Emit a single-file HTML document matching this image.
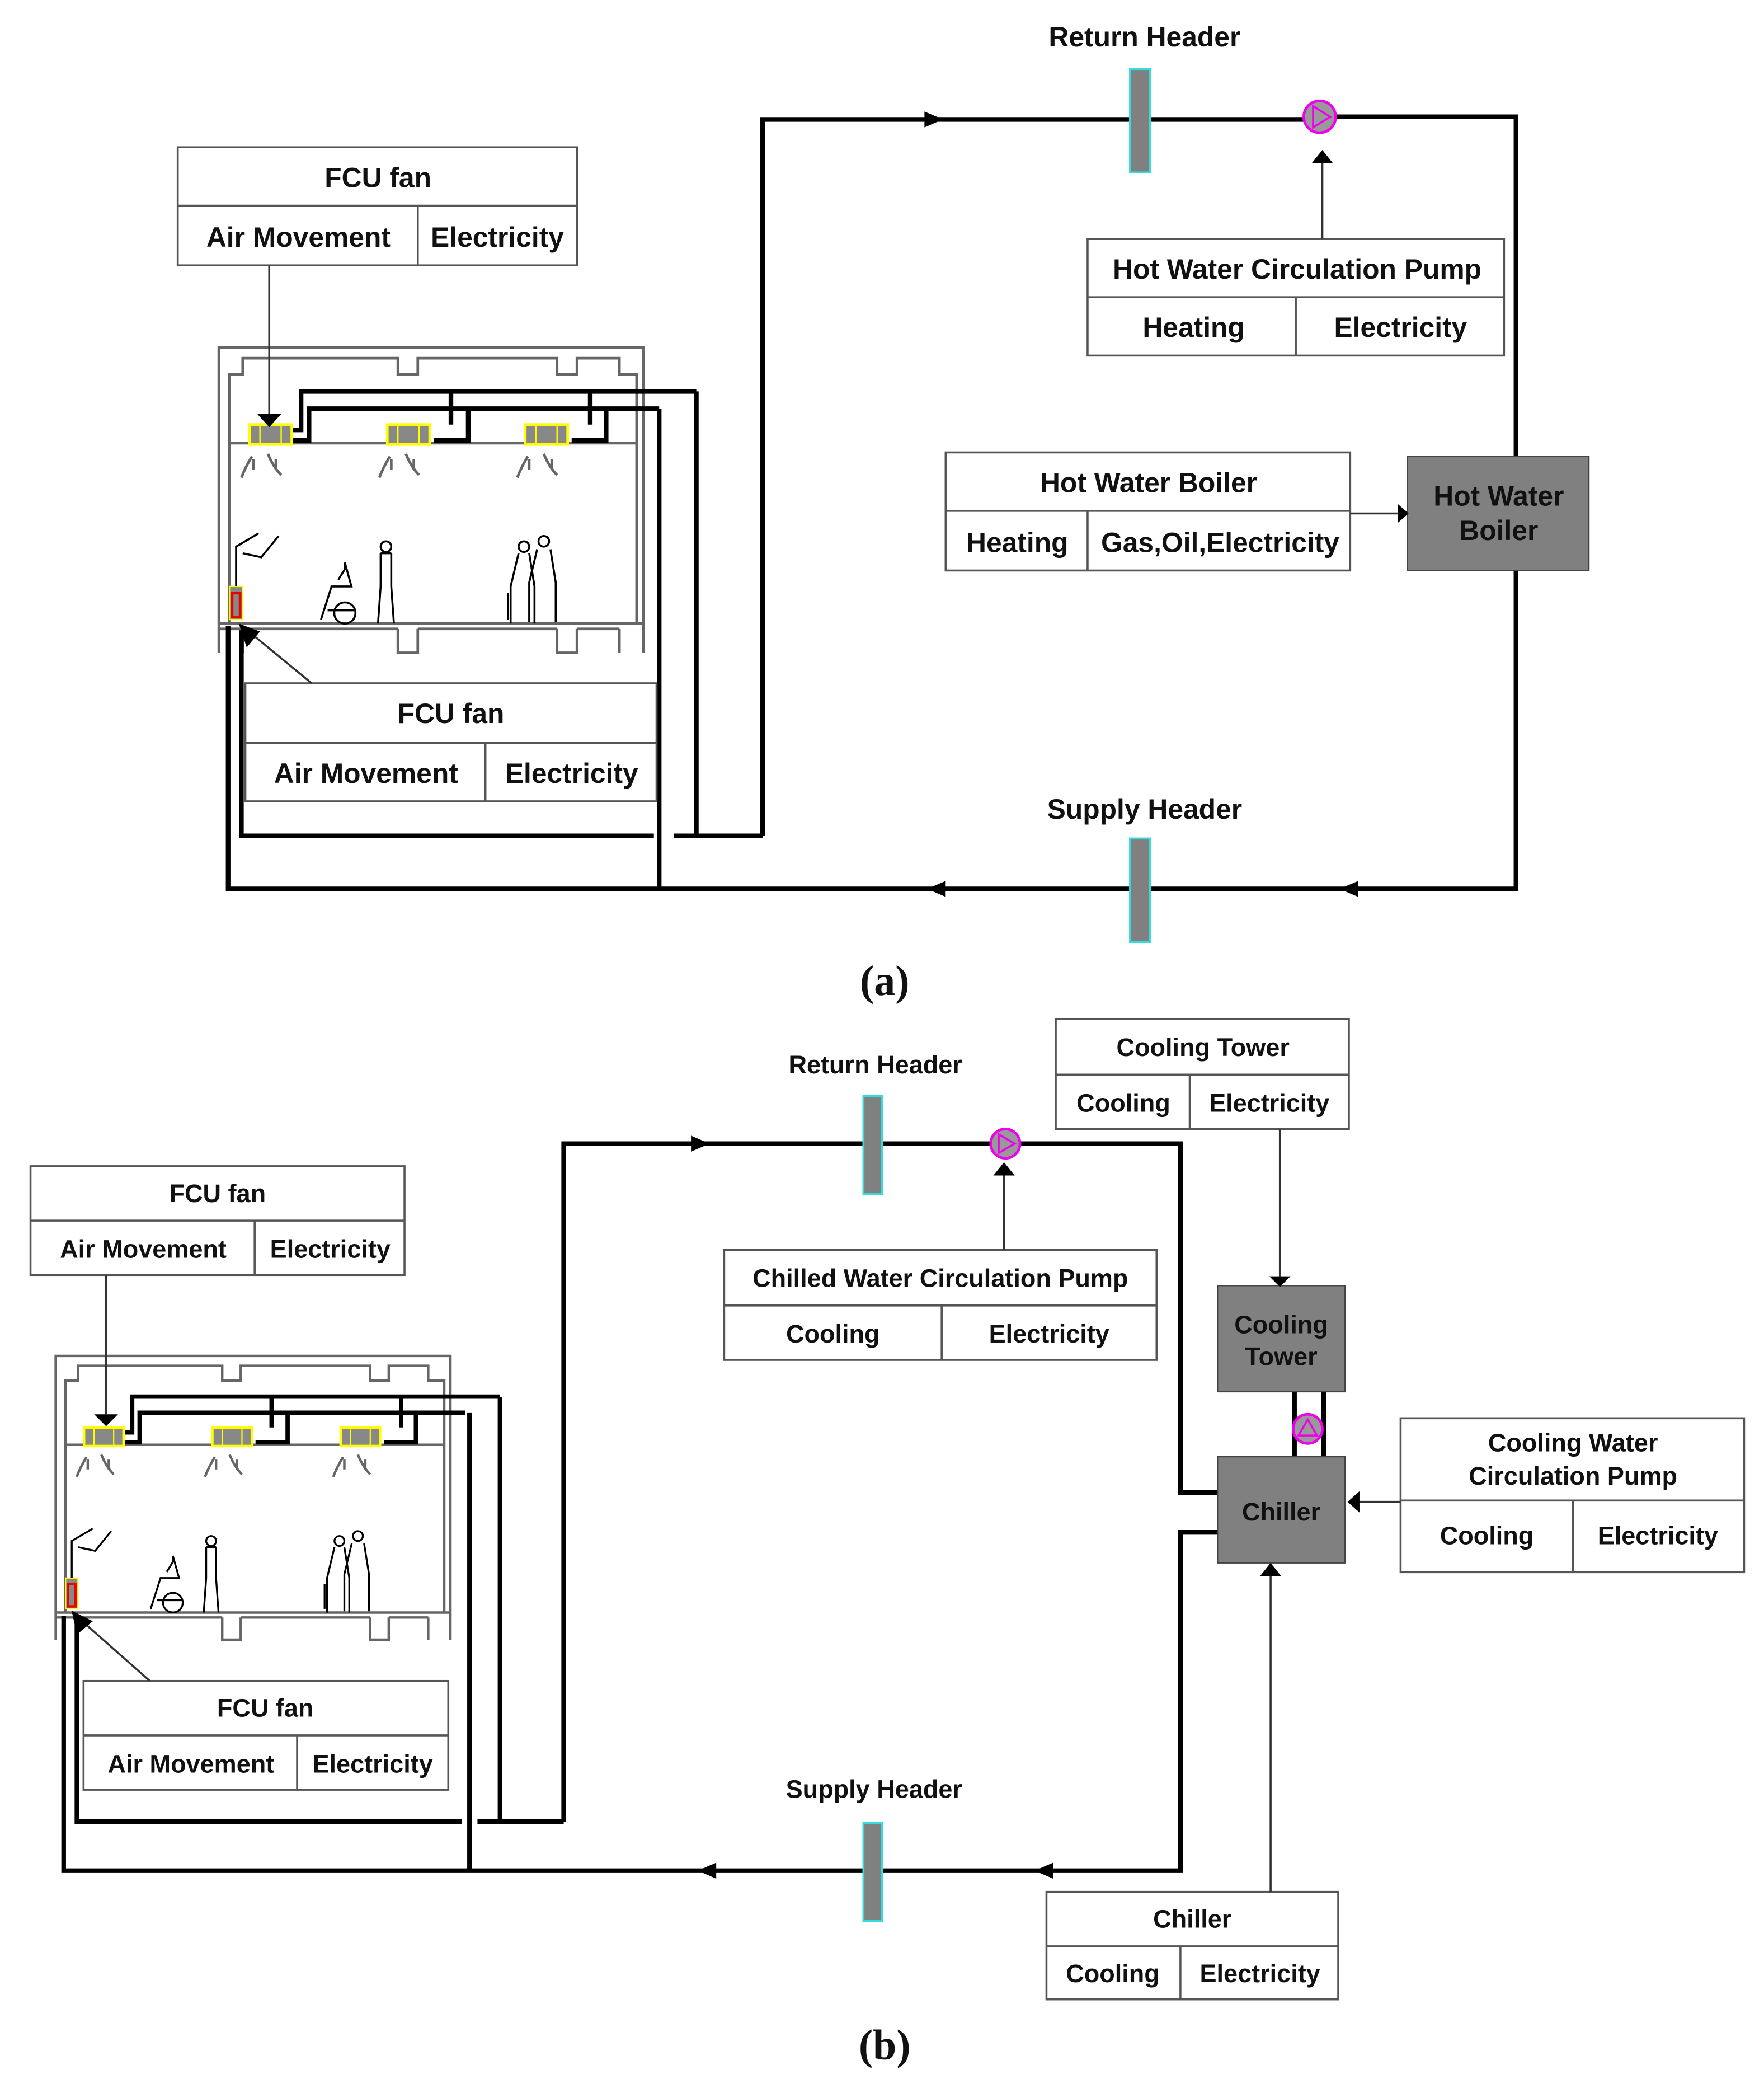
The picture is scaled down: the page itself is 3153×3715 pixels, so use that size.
<!DOCTYPE html>
<html><head><meta charset="utf-8"><style>
html,body{margin:0;padding:0;background:#fff;}
svg{display:block;}
text{font-family:"Liberation Sans",sans-serif;font-weight:bold;fill:#111;}
</style></head><body>
<svg width="3153" height="3715" viewBox="0 0 1330 1567" xmlns="http://www.w3.org/2000/svg">
<defs>
<g id="fcu">
<rect x="0" y="0" width="32" height="15" fill="#888" stroke="#ff0" stroke-width="2"/>
<line x1="8" y1="0" x2="8" y2="15" stroke="#ff0" stroke-width="1"/>
<line x1="24" y1="0" x2="24" y2="15" stroke="#ff0" stroke-width="1"/>
<path d="M2,24 q-5,8 -8,16 M14,22 q4,10 10,16 M3,26 v8 M20,26 v8" stroke="#666" stroke-width="2" fill="none"/>
</g>
<g id="room">
<g fill="none" stroke="#666" stroke-width="2">
<path d="M0,230 V0 H320 V230"/>
<path d="M8,208 V20 H18 V8 H135 V20 H150 V8 H255 V20 H270 V8 H302 V20 H315 V208"/>
<path d="M8,72 H315"/>
<path d="M0,208 H320 M0,212 H18 V230 M135,212 V230 H150 V212 M255,212 V230 H270 V212 M302,212 V230"/>
<path d="M18,212 H135 M150,212 H255 M270,212 H302"/>
</g>
<g fill="none" stroke="#000" stroke-width="3.5">
<path d="M55,62 H62 V33 H360 M175,58 V33 M280,58 V33"/>
<path d="M55,70 H68 V46 H332 M162,70 H188 V46 M266,70 H292 V46"/>
</g>
<use href="#fcu" x="23" y="58"/><use href="#fcu" x="127" y="58"/><use href="#fcu" x="231" y="58"/>
<rect x="8" y="180" width="10" height="25" fill="#888" stroke="#ff0"/><rect x="10" y="185" width="6" height="18" fill="none" stroke="#e00" stroke-width="2"/>
<path d="M13,180 V150 L30,140 M18,155 L32,158 L45,142" stroke="#000" stroke-width="1.5" fill="none"/>
<g fill="none" stroke="#000" stroke-width="1.5">
<circle cx="95" cy="200" r="8"/><path d="M90,175 l5,-8 v-5 M95,162 l5,18 h-15 l-8,25 M82,198 h20"/>
<circle cx="126" cy="150" r="4"/><path d="M122,155 v25 l-2,28 M130,155 v25 l2,28 M122,155 h8"/>
<circle cx="245" cy="146" r="4"/><circle cx="230" cy="150" r="4"/><path d="M240,152 l-6,25 v30 M250,152 l4,25 v30 M226,155 l-6,25 v28 M234,155 l4,25 v28 M218,185 v20"/>
</g>
</g>
</defs>

<use href="#room" transform="translate(165,262)"/>
<g fill="none" stroke="#000" stroke-width="3.5">
<path d="M525,295 V630 H508"/>
<path d="M575,630 H525"/>
<path d="M575,630 V90 H860"/>
<path d="M497,308 V670"/>
<path d="M182,475 V630 H493"/>
<path d="M172,472 V670 H1143 V88 H1000"/>
<path d="M860,90 H985"/>
</g>
<path d="M697,84 L711,90 L697,96z M1024,664 L1010,670 L1024,676z M713,664 L699,670 L713,676z"/>
<rect x="852" y="52" width="15" height="78" fill="#808080" stroke="#3dd" stroke-width="1.5"/>
<rect x="852" y="632" width="15" height="78" fill="#808080" stroke="#3dd" stroke-width="1.5"/>
<circle cx="995" cy="88" r="12" fill="#999" stroke="#e0e" stroke-width="2"/><path d="M990,80 L1003,88 L990,96z" fill="none" stroke="#e0e" stroke-width="1.5"/>
<text x="863" y="35" font-size="21" text-anchor="middle">Return Header</text>
<text x="863" y="617" font-size="21" text-anchor="middle">Supply Header</text>
<g fill="#fff" stroke="#555" stroke-width="1.5">
<rect x="134" y="111" width="301" height="89"/><path d="M134,155 H435 M315,155 V200"/>
<rect x="185" y="515" width="310" height="89"/><path d="M185,560 H495 M366,560 V604"/>
<rect x="820" y="180" width="314" height="88"/><path d="M820,224 H1134 M977,224 V268"/>
<rect x="713" y="341" width="305" height="89"/><path d="M713,385 H1018 M820,385 V430"/>
</g>
<rect x="1061" y="344" width="137" height="86" fill="#808080" stroke="#444"/>
<g stroke="#333" stroke-width="1.5" fill="none">
<path d="M203,200 V312"/><path d="M235,515 L190,478"/>
<path d="M997,180 V122"/><path d="M1018,387 H1055"/>
</g>
<path d="M194,312 L203,322 L212,312z M989,123 L997,113 L1005,123z M1054,380 L1062,387 L1054,394z M180,470 L186,488 L196,476z"/>
<g font-size="21" text-anchor="middle">
<text x="285" y="141">FCU fan</text><text x="225" y="186">Air Movement</text><text x="375" y="186">Electricity</text>
<text x="340" y="545">FCU fan</text><text x="276" y="590">Air Movement</text><text x="431" y="590">Electricity</text>
<text x="978" y="210">Hot Water  Circulation Pump</text><text x="900" y="254">Heating</text><text x="1056" y="254">Electricity</text>
<text x="866" y="371">Hot Water  Boiler</text><text x="767" y="416">Heating</text><text x="920" y="416">Gas,Oil,Electricity</text>
<text x="1130" y="381">Hot Water</text><text x="1130" y="407">Boiler</text>
</g>
<text x="667" y="750" font-size="32" text-anchor="middle" style="font-family:'Liberation Serif',serif;font-weight:bold">(a)</text>

<use href="#room" transform="translate(42,1022) scale(0.93)"/>
<g fill="none" stroke="#000" stroke-width="3.5">
<path d="M377,1053 V1373 H360"/>
<path d="M425,1373 H377"/>
<path d="M425,1373 V862 H660"/>
<path d="M354,1065 V1410"/>
<path d="M58,1220 V1373 H348"/>
<path d="M48,1218 V1410 H890 V1155 H918"/>
<path d="M660,862 H748 M768,862 H890 V1125 H918"/>
<path d="M976,1049 V1098 M998,1049 V1098"/>
</g>
<path d="M521,856 L535,862 L521,868z M794,1404 L780,1410 L794,1416z M540,1404 L526,1410 L540,1416z"/>
<rect x="651" y="826" width="14" height="74" fill="#808080" stroke="#3dd" stroke-width="1.5"/>
<rect x="651" y="1374" width="14" height="74" fill="#808080" stroke="#3dd" stroke-width="1.5"/>
<circle cx="758" cy="862" r="11" fill="#999" stroke="#e0e" stroke-width="2"/><path d="M753,855 L765,862 L753,869z" fill="none" stroke="#e0e" stroke-width="1.5"/>
<circle cx="986" cy="1077" r="11" fill="#999" stroke="#e0e" stroke-width="2"/><path d="M979,1082 L986,1070 L993,1082z" fill="none" stroke="#e0e" stroke-width="1.5"/>
<text x="660" y="809" font-size="19" text-anchor="middle">Return Header</text>
<text x="659" y="1355" font-size="19" text-anchor="middle">Supply Header</text>
<g fill="#fff" stroke="#555" stroke-width="1.5">
<rect x="23" y="879" width="282" height="82"/><path d="M23,920 H305 M192,920 V961"/>
<rect x="63" y="1267" width="275" height="82"/><path d="M63,1308 H338 M224,1308 V1349"/>
<rect x="546" y="942" width="326" height="83"/><path d="M546,984 H872 M710,984 V1025"/>
<rect x="796" y="768" width="221" height="83"/><path d="M796,810 H1017 M897,810 V851"/>
<rect x="1056" y="1069" width="259" height="116"/><path d="M1056,1131 H1315 M1186,1131 V1185"/>
<rect x="789" y="1426" width="220" height="81"/><path d="M789,1467 H1009 M890,1467 V1507"/>
</g>
<rect x="918" y="969" width="96" height="80" fill="#808080" stroke="#444"/>
<rect x="918" y="1098" width="96" height="80" fill="#808080" stroke="#444"/>
<g stroke="#333" stroke-width="1.5" fill="none">
<path d="M80,961 V1066"/><path d="M113,1267 L62,1222"/>
<path d="M757,942 V885"/><path d="M965,851 V962"/><path d="M1056,1132 H1024"/><path d="M958,1426 V1188"/>
</g>
<path d="M71,1066 L80,1075 L89,1066z M749,886 L757,876 L765,886z M957,962 L965,970 L973,962z M1025,1124 L1016,1132 L1025,1140z M950,1188 L958,1178 L966,1188z M54,1214 L58,1232 L70,1222z"/>
<g font-size="19" text-anchor="middle">
<text x="164" y="906">FCU fan</text><text x="108" y="948">Air Movement</text><text x="249" y="948">Electricity</text>
<text x="200" y="1294">FCU fan</text><text x="144" y="1336">Air Movement</text><text x="281" y="1336">Electricity</text>
<text x="709" y="970">Chilled Water Circulation Pump</text><text x="628" y="1012">Cooling</text><text x="791" y="1012">Electricity</text>
<text x="907" y="796">Cooling Tower</text><text x="847" y="838">Cooling</text><text x="957" y="838">Electricity</text>
<text x="1186" y="1094">Cooling Water</text><text x="1186" y="1119">Circulation Pump</text><text x="1121" y="1164">Cooling</text><text x="1250" y="1164">Electricity</text>
<text x="899" y="1453">Chiller</text><text x="839" y="1494">Cooling</text><text x="950" y="1494">Electricity</text>
<text x="966" y="1005">Cooling</text><text x="966" y="1029">Tower</text>
<text x="966" y="1146">Chiller</text>
</g>
<text x="667" y="1552" font-size="32" text-anchor="middle" style="font-family:'Liberation Serif',serif;font-weight:bold">(b)</text>
</svg>
</body></html>
